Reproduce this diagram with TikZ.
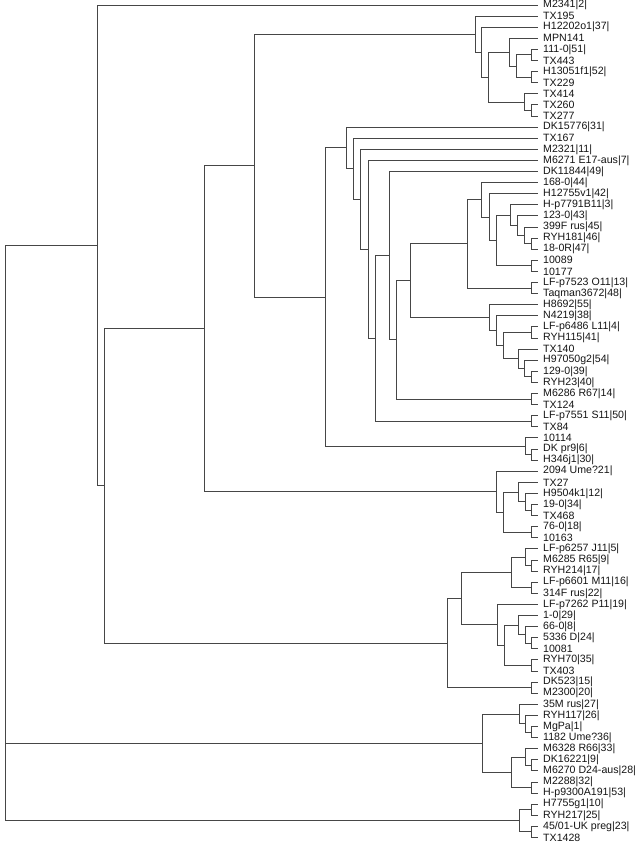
\documentclass[tikz,border=0pt]{standalone}
\usepackage{fontspec}
\setmainfont{Liberation Sans}
\usepackage{xcolor}
\usepackage{tikz}
\usetikzlibrary{calc}
\definecolor{Branch}{RGB}{70,70,70}
\definecolor{Label}{RGB}{20,20,20}

\tikzset{
  branch/.style={draw=Branch,line width=1pt},
  leaf/.style={anchor=west,inner xsep=5pt,inner ysep=1pt,text=Label,
               font=\fontsize{10.6}{12}\selectfont}
}
% clade{name}{x}{child}{child}
\newcommand\clade[4]{%
  \path let \p1=($(#3)!.5!(#4)$) in (#2pt,\y1) coordinate (#1);
  \draw[branch] (#1) |- (#3) (#1) |- (#4);
}

\begin{document}
\begin{tikzpicture}[x=1pt,y=-1pt]
  \useasboundingbox (0,0) rectangle (640,844);
  \foreach \lab [count=\i] in {M2341|2|,TX195,H12202o1|37|,MPN141,111-0|51|,
      TX443,H13051f1|52|,TX229,TX414,TX260,TX277,DK15776|31|,TX167,M2321|11|,
      M6271 E17-aus|7|,DK11844|49|,168-0|44|,H12755v1|42|,H-p7791B11|3|,
      123-0|43|,399F rus|45|,RYH181|46|,18-0R|47|,10089,10177,
      LF-p7523 O11|13|,Taqman3672|48|,H8692|55|,N4219|38|,LF-p6486 L11|4|,
      RYH115|41|,TX140,H97050g2|54|,129-0|39|,RYH23|40|,M6286 R67|14|,TX124,
      LF-p7551 S11|50|,TX84,10114,DK pr9|6|,H346j1|30|,2094 Ume?21|,TX27,
      H9504k1|12|,19-0|34|,TX468,76-0|18|,10163,LF-p6257 J11|5|,
      M6285 R65|9|,RYH214|17|,LF-p6601 M11|16|,314F rus|22|,
      LF-p7262 P11|19|,1-0|29|,66-0|8|,5336 D|24|,10081,RYH70|35|,TX403,
      DK523|15|,M2300|20|,35M rus|27|,RYH117|26|,MgPa|1|,1182 Ume?36|,
      M6328 R66|33|,DK16221|9|,M6270 D24-aus|28|,M2288|32|,H-p9300A191|53|,
      H7755g1|10|,RYH217|25|,{45/01-UK preg|23|},TX1428}
    \node[leaf] (l\i) at (538,{5+(\i-1)*11.1}) {\lab};

  % TX195 ... TX277
  \clade{j56}{531.7}{l5}{l6}
  \clade{j78}{531.7}{l7}{l8}
  \clade{j58}{516.7}{j56}{j78}
  \clade{j48}{509.3}{l4}{j58}
  \clade{j1011}{531.7}{l10}{l11}
  \clade{j911}{524}{l9}{j1011}
  \clade{j411}{488.3}{j48}{j911}
  \clade{j311}{481.7}{l3}{j411}
  \clade{j211}{475}{l2}{j311}

  % DK15776 ... H346j1
  \clade{j2223}{531.7}{l22}{l23}
  \clade{j2123}{524.3}{l21}{j2223}
  \clade{j2023}{517.3}{l20}{j2123}
  \clade{j1923}{510}{l19}{j2023}
  \clade{j2425}{531.7}{l24}{l25}
  \clade{j1925}{496}{j1923}{j2425}
  \clade{j1825}{489}{l18}{j1925}
  \clade{j1725}{481.7}{l17}{j1825}
  \clade{j2627}{531.7}{l26}{l27}
  \clade{j1727}{467.3}{j1725}{j2627}
  \clade{j3435}{531.7}{l34}{l35}
  \clade{j3335}{524.3}{l33}{j3435}
  \clade{j3235}{518.3}{l32}{j3335}
  \clade{j3031}{531.7}{l30}{l31}
  \clade{j3035}{503.3}{j3031}{j3235}
  \clade{j2935}{496}{l29}{j3035}
  \clade{j2835}{489}{l28}{j2935}
  \clade{j1735}{410.7}{j1727}{j2835}
  \clade{j3637}{531.7}{l36}{l37}
  \clade{j1737}{396.7}{j1735}{j3637}
  \clade{j1637}{389}{l16}{j1737}
  \clade{j3839}{531.7}{l38}{l39}
  \clade{j1639}{375.3}{j1637}{j3839}
  \clade{j1539}{368}{l15}{j1639}
  \clade{j1439}{360.7}{l14}{j1539}
  \clade{j1339}{353.3}{l13}{j1439}
  \clade{j1239}{346}{l12}{j1339}
  \clade{j4142}{531.7}{l41}{l42}
  \clade{j4042}{525.7}{l40}{j4142}
  \clade{j1242}{325}{j1239}{j4042}
  \clade{j242}{254}{j211}{j1242}

  % 2094 Ume?21 ... 10163
  \clade{j4647}{531.7}{l46}{l47}
  \clade{j4547}{525}{l45}{j4647}
  \clade{j4447}{518}{l44}{j4547}
  \clade{j4849}{531.7}{l48}{l49}
  \clade{j4449}{503.7}{j4447}{j4849}
  \clade{j4349}{496.7}{l43}{j4449}
  \clade{j249}{204}{j242}{j4349}

  % LF-p6257 J11 ... M2300
  \clade{j5152}{531.7}{l51}{l52}
  \clade{j5052}{525.7}{l50}{j5152}
  \clade{j5354}{531.7}{l53}{l54}
  \clade{j5054}{511.3}{j5052}{j5354}
  \clade{j5859}{531.7}{l58}{l59}
  \clade{j5759}{525.3}{l57}{j5859}
  \clade{j5659}{518.3}{l56}{j5759}
  \clade{j6061}{531.7}{l60}{l61}
  \clade{j5661}{504}{j5659}{j6061}
  \clade{j5561}{497}{l55}{j5661}
  \clade{j5061}{461.3}{j5054}{j5561}
  \clade{j6263}{531.7}{l62}{l63}
  \clade{j5063}{447}{j5061}{j6263}
  \clade{j263}{104}{j249}{j5063}
  \clade{j163}{97}{l1}{j263}

  % 35M rus ... H-p9300A191
  \clade{j6667}{531.7}{l66}{l67}
  \clade{j6567}{525.7}{l65}{j6667}
  \clade{j6467}{519}{l64}{j6567}
  \clade{j6970}{531.7}{l69}{l70}
  \clade{j6870}{525.7}{l68}{j6970}
  \clade{j7172}{531.7}{l71}{l72}
  \clade{j6872}{511.5}{j6870}{j7172}
  \clade{j6472}{482.8}{j6467}{j6872}

  % H7755g1 ... TX1428
  \clade{j7374}{531.7}{l73}{l74}
  \clade{j7576}{531.7}{l75}{l76}
  \clade{j7376}{519}{j7374}{j7576}

  \path let \p1=(j163) in (5pt,\y1) coordinate (root);
  \draw[branch] (root) |- (j163) (root) |- (j6472) (root) |- (j7376);
\end{tikzpicture}
\end{document}
